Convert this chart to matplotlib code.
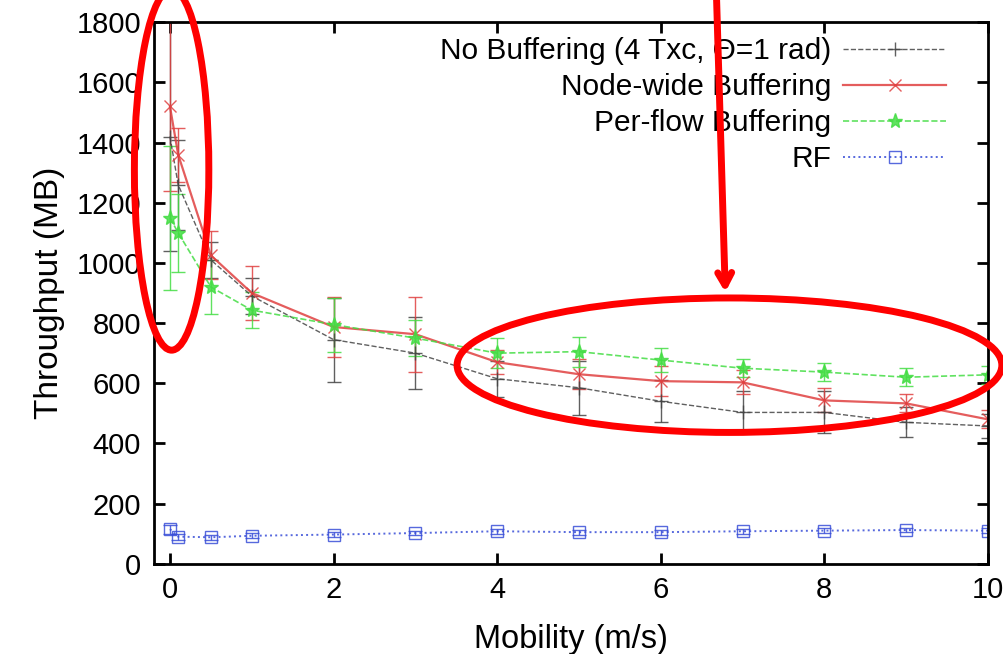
import numpy as np
import matplotlib
matplotlib.use("Agg")
import matplotlib.pyplot as plt
from matplotlib.patches import Ellipse
from matplotlib.lines import Line2D

plt.rcParams['font.family'] = ['Liberation Sans', 'DejaVu Sans']

mobility = [0, 0.1, 0.5, 1, 2, 3, 4, 5, 6, 7, 8, 9, 10]

no_buf = [1420, 1260, 1010, 890, 745, 700, 615, 585, 540, 503, 503, 470, 458]
no_buf_err = [380, 150, 60, 60, 140, 120, 60, 90, 70, 70, 70, 50, 40]

node_buf = [1520, 1360, 1025, 900, 787, 763, 670, 630, 607, 603, 543, 533, 480]
node_buf_err = [280, 90, 80, 90, 100, 125, 40, 50, 50, 40, 40, 30, 30]

flow_buf = [1150, 1100, 920, 843, 795, 750, 700, 705, 677, 650, 637, 620, 628]
flow_buf_err = [240, 130, 90, 60, 90, 60, 50, 50, 40, 30, 30, 30, 30]

rf = [115, 90, 88, 93, 97, 102, 108, 105, 105, 108, 110, 112, 110]
rf_err = [15, 10, 8, 8, 8, 8, 8, 8, 8, 8, 8, 8, 8]

labels = ["No Buffering (4 Txc, \u0398=1 rad)", "Node-wide Buffering",
          "Per-flow Buffering", "RF"]

fig = plt.figure(figsize=(10.04, 6.54), dpi=100)
ax = fig.add_axes([0.153, 0.138, 0.831, 0.828])

series = [
    (no_buf, no_buf_err, "#444444", "--", "+", 10, 1.0, "none"),
    (node_buf, node_buf_err, "#e04040", "-", "x", 8, 1.6, "none"),
    (flow_buf, flow_buf_err, "#44dd44", "--", "*", 11, 1.2, None),
    (rf, rf_err, "#3a4fd8", ":", "s", 8, 1.4, "none"),
]

handles = []
for (vals, err, col, ls, mk, ms, lw, mfc) in series:
    ax.errorbar(mobility, vals, yerr=err, color=col, linestyle=ls, marker=mk,
                markersize=ms, linewidth=lw, elinewidth=1.0, capsize=5,
                markerfacecolor=mfc if mfc else col, alpha=0.85)
    handles.append(Line2D([], [], color=col, linestyle=ls, marker=mk,
                          markersize=ms, linewidth=lw,
                          markerfacecolor=mfc if mfc else col, alpha=0.85))

ax.set_xlim(-0.2, 10)
ax.set_ylim(0, 1800)
ax.set_xticks(np.arange(0, 11, 2))
ax.set_yticks(np.arange(0, 1801, 200))
ax.tick_params(direction='in', length=8, width=2, labelsize=21,
               top=True, right=True, pad=9)
for s in ax.spines.values():
    s.set_linewidth(2)

ax.set_xlabel("Mobility (m/s)", fontsize=23.5, labelpad=14)
ax.set_ylabel("Throughput (MB)", fontsize=24, labelpad=8)

ax.legend(handles, labels, loc='upper right', frameon=False, markerfirst=False,
          fontsize=21.5, handlelength=3.45, handletextpad=0.4, numpoints=1,
          labelspacing=0.27, borderaxespad=0.1, bbox_to_anchor=(0.968, 1.0))

# red annotations drawn over the chart
ax.add_patch(Ellipse((0.02, 1310), 0.91, 1200, fill=False, edgecolor='#ff0000',
                     linewidth=5, clip_on=False, zorder=10))
ax.add_patch(Ellipse((6.84, 660), 6.66, 447, fill=False, edgecolor='#ff0000',
                     linewidth=5, clip_on=False, zorder=10))
ax.annotate("", xy=(6.79, 893), xytext=(6.68, 1900),
            arrowprops=dict(arrowstyle='->,head_length=0.9,head_width=0.5',
                            color='#ff0000', lw=5),
            annotation_clip=False, zorder=10)

plt.savefig("out.png", dpi=100)
